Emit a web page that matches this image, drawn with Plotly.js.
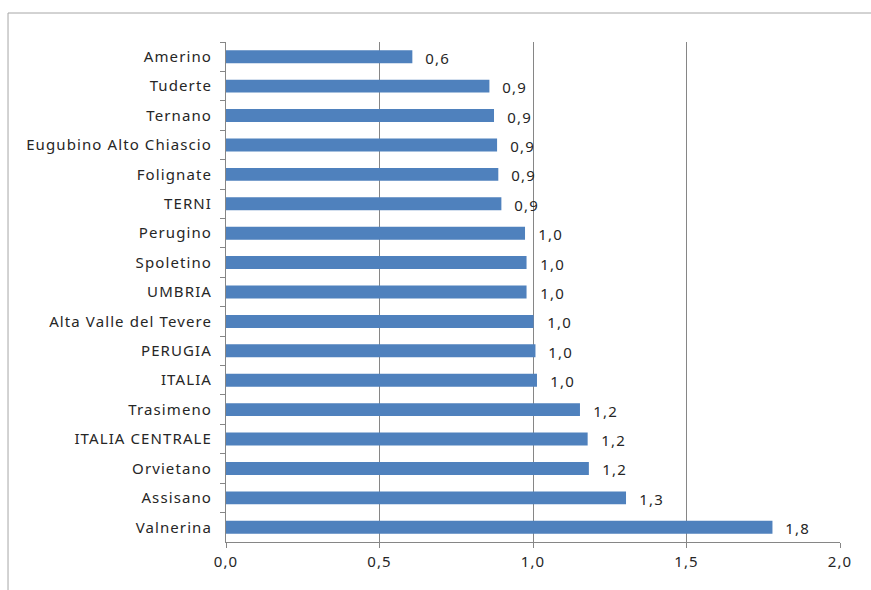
<!DOCTYPE html>
<html>
<head>
<meta charset="utf-8">
<script src="https://cdn.plot.ly/plotly-3.0.1.min.js"></script>
<style>
  html, body { margin: 0; padding: 0; background: #ffffff; }
  #chart { width: 871px; height: 590px; }
  /* looser tracking for axis and value labels */
  #chart .xtick text, #chart .ytick text, #chart .annotation-text { letter-spacing: 1.1px; }
</style>
</head>
<body>
<div id="chart"></div>
<script>
// Territorial areas, listed top to bottom
const areas = [
  "Amerino", "Tuderte", "Ternano", "Eugubino Alto Chiascio", "Folignate",
  "TERNI", "Perugino", "Spoletino", "UMBRIA", "Alta Valle del Tevere",
  "PERUGIA", "ITALIA", "Trasimeno", "ITALIA CENTRALE", "Orvietano",
  "Assisano", "Valnerina"
];

// Index value for each area
const values = [
  0.607, 0.858, 0.873, 0.883, 0.887,
  0.897, 0.974, 0.979, 0.979, 1.002,
  1.008, 1.013, 1.153, 1.178, 1.182,
  1.303, 1.780
];

// Value axis ticks
const tickVals = [0, 0.5, 1.0, 1.5, 2.0];
const tickText = ["0,0", "0,5", "1,0", "1,5", "2,0"];

const fontFamily = "'Noto Sans', 'Open Sans', sans-serif";
const fontSize = 15;
const textColor = "#262626";

// One-decimal labels with a comma separator, placed just past each bar end
const valueLabels = values.map((v, i) => ({
  x: v,
  y: areas[i],
  xref: "x",
  yref: "y",
  text: v.toFixed(1).replace(".", ","),
  showarrow: false,
  xanchor: "left",
  yanchor: "middle",
  xshift: 13,
  yshift: -1,
  font: { family: fontFamily, size: fontSize, color: textColor }
}));

const trace = {
  type: "bar",
  orientation: "h",
  x: values,
  y: areas,
  marker: { color: "#4F81BD", line: { width: 0 } },
  hoverinfo: "x+y"
};

const layout = {
  width: 871,
  height: 590,
  margin: { l: 226, r: 31, t: 42, b: 48 },
  paper_bgcolor: "#ffffff",
  plot_bgcolor: "#ffffff",
  showlegend: false,
  bargap: 0.56,
  font: { family: fontFamily, size: fontSize, color: textColor },
  xaxis: {
    range: [0, 2.0],
    tickvals: tickVals,
    ticktext: tickText,
    showgrid: true,
    gridcolor: "#868686",
    gridwidth: 1,
    zeroline: false,
    showline: true,
    linecolor: "#868686",
    linewidth: 1,
    ticks: "outside",
    ticklen: 5,
    tickcolor: "#868686",
    ticklabelstandoff: 1,
    tickfont: { family: fontFamily, size: fontSize, color: textColor },
    fixedrange: true
  },
  yaxis: {
    autorange: "reversed",
    type: "category",
    showgrid: false,
    zeroline: false,
    showline: true,
    linecolor: "#868686",
    linewidth: 1,
    ticks: "outside",
    tickson: "boundaries",
    ticklen: 5,
    tickcolor: "#868686",
    ticklabelstandoff: 10,
    tickfont: { family: fontFamily, size: fontSize, color: textColor },
    fixedrange: true
  },
  annotations: valueLabels,
  shapes: [
    // chart frame: top and left edges
    { type: "line", xref: "paper", yref: "paper",
      x0: -0.355, x1: 1.2, y0: 1.058, y1: 1.058,
      line: { color: "#a6a6a6", width: 1 } },
    { type: "line", xref: "paper", yref: "paper",
      x0: -0.355, x1: -0.355, y0: 1.058, y1: -0.2,
      line: { color: "#a6a6a6", width: 1 } }
  ]
};

Plotly.newPlot("chart", [trace], layout, { displayModeBar: false, staticPlot: true });
</script>
</body>
</html>
